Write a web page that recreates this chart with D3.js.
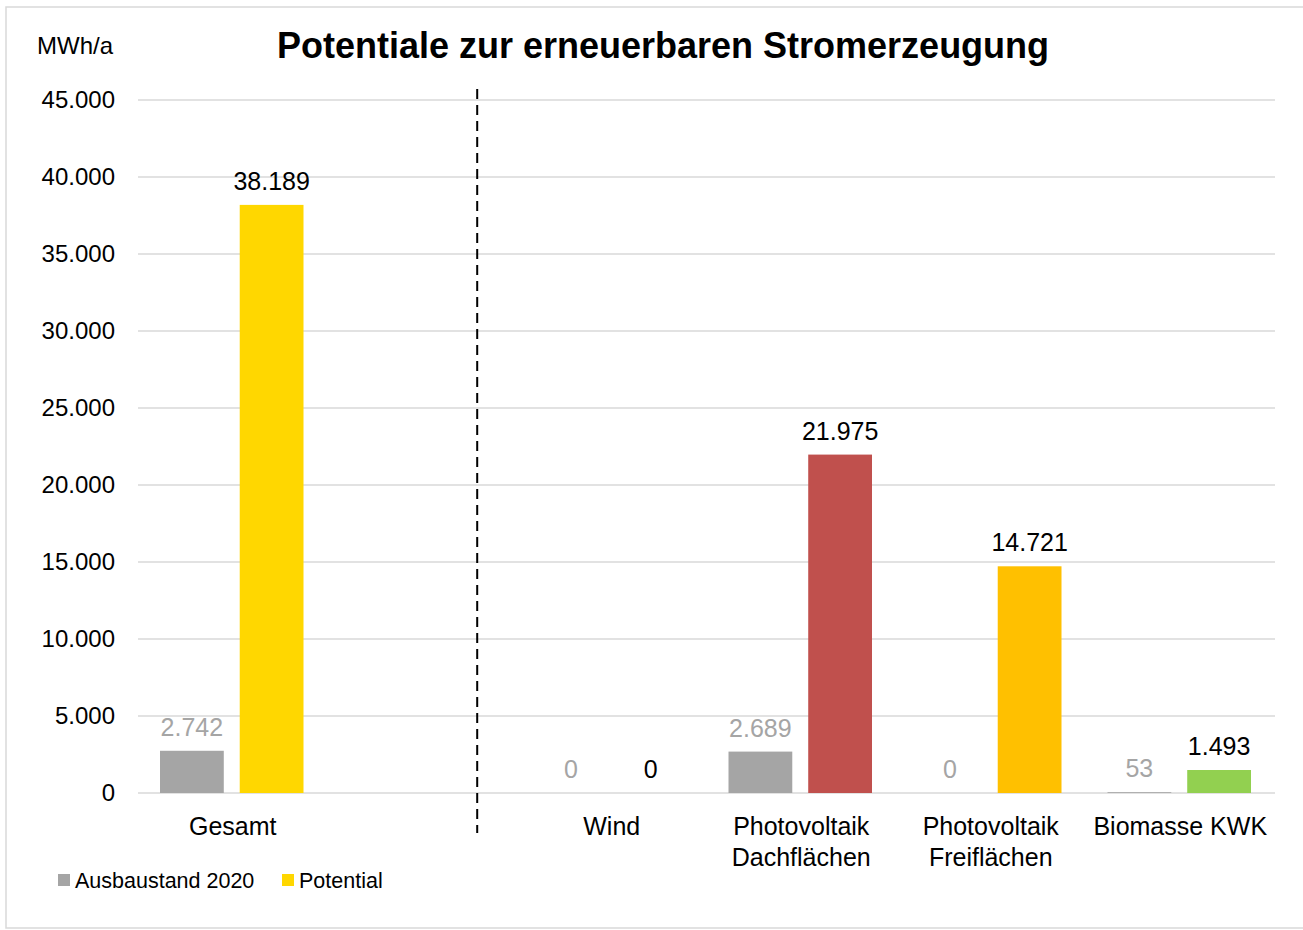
<!DOCTYPE html>
<html>
<head>
<meta charset="utf-8">
<script src="https://cdn.jsdelivr.net/npm/d3@7"></script>
<style>
  body { margin: 0; background: #fff; }
  svg text { font-family: "Liberation Sans", Arial, sans-serif; }
</style>
</head>
<body>
<svg></svg>
<script>
const width = 1303,
    height = 930;

// chart data
const categories = ["Gesamt", "gap", "Wind", "Photovoltaik Dachflächen", "Photovoltaik Freiflächen", "Biomasse KWK"];
const categoryLines = [["Gesamt"], [], ["Wind"], ["Photovoltaik", "Dachflächen"], ["Photovoltaik", "Freiflächen"], ["Biomasse KWK"]];
const ausbaustand = [2742, null, 0, 2689, 0, 53];
const potential = [38189, null, 0, 21975, 14721, 1493];
const potentialColors = ["#FFD700", null, "#FFD700", "#C0504D", "#FFC000", "#92D050"];
const yTicks = [0, 5000, 10000, 15000, 20000, 25000, 30000, 35000, 40000, 45000];

const de = d3.formatLocale({ decimal: ",", thousands: ".", grouping: [3], currency: ["", " €"] });
const fmt = de.format(",.0f");

const svg = d3.select("svg")
    .attr("width", width)
    .attr("height", height);

// outer frame
svg.append("rect")
    .attr("x", 6).attr("y", 7)
    .attr("width", width + 10).attr("height", 921)
    .attr("fill", "#fff")
    .attr("stroke", "#D9D9D9")
    .attr("stroke-width", 1.5);

const x = d3.scaleBand().domain(categories).range([138, 1275]);
const bw = x.bandwidth();
const x1 = d3.scaleBand().domain(["a", "p"]).range([22, bw - 24]).paddingInner(0.2);
const y = d3.scaleLinear().domain([0, 45000]).range([793, 100]);

// gridlines
svg.append("g")
    .selectAll("line")
    .data(yTicks)
    .join("line")
    .attr("x1", 138).attr("x2", 1275)
    .attr("y1", d => y(d)).attr("y2", d => y(d))
    .attr("stroke", "#D9D9D9")
    .attr("stroke-width", 1.5);

// y tick labels
svg.append("g")
    .selectAll("text")
    .data(yTicks)
    .join("text")
    .attr("x", 115)
    .attr("y", d => y(d))
    .attr("dy", "0.35em")
    .attr("text-anchor", "end")
    .attr("font-size", 24)
    .attr("fill", "#000")
    .text(d => fmt(d));

// unit + title
svg.append("text")
    .attr("x", 75).attr("y", 46).attr("dy", "0.35em")
    .attr("text-anchor", "middle")
    .attr("font-size", 24)
    .text("MWh/a");

svg.append("text")
    .attr("x", 663).attr("y", 45).attr("dy", "0.35em")
    .attr("text-anchor", "middle")
    .attr("font-size", 36)
    .attr("font-weight", "bold")
    .text("Potentiale zur erneuerbaren Stromerzeugung");

const rows = categories.map((c, i) => ({ cat: c, a: ausbaustand[i], p: potential[i], color: potentialColors[i], lines: categoryLines[i] }))
    .filter(d => d.a !== null);

// bars
const g = svg.append("g");
g.selectAll("rect.a")
    .data(rows)
    .join("rect")
    .attr("class", "a")
    .attr("x", d => x(d.cat) + x1("a"))
    .attr("width", x1.bandwidth())
    .attr("y", d => y(d.a))
    .attr("height", d => y(0) - y(d.a))
    .attr("fill", "#A5A5A5");

g.selectAll("rect.p")
    .data(rows)
    .join("rect")
    .attr("class", "p")
    .attr("x", d => x(d.cat) + x1("p"))
    .attr("width", x1.bandwidth())
    .attr("y", d => y(d.p))
    .attr("height", d => y(0) - y(d.p))
    .attr("fill", d => d.color);

// value labels
g.selectAll("text.la")
    .data(rows)
    .join("text")
    .attr("class", "la")
    .attr("x", d => x(d.cat) + x1("a") + x1.bandwidth() / 2)
    .attr("y", d => y(d.a) - 15)
    .attr("text-anchor", "middle")
    .attr("font-size", 25)
    .attr("fill", "#A5A5A5")
    .text(d => fmt(d.a));

g.selectAll("text.lp")
    .data(rows)
    .join("text")
    .attr("class", "lp")
    .attr("x", d => x(d.cat) + x1("p") + x1.bandwidth() / 2)
    .attr("y", d => y(d.p) - 15)
    .attr("text-anchor", "middle")
    .attr("font-size", 25)
    .attr("fill", "#000")
    .text(d => fmt(d.p));

// category labels
const cl = svg.append("g")
    .selectAll("text")
    .data(rows)
    .join("text")
    .attr("x", d => x(d.cat) + bw / 2)
    .attr("y", 826)
    .attr("text-anchor", "middle")
    .attr("font-size", 25)
    .attr("fill", "#000");
cl.selectAll("tspan")
    .data(d => d.lines)
    .join("tspan")
    .attr("x", function () { return d3.select(this.parentNode).attr("x"); })
    .attr("dy", (d, i) => i === 0 ? "0.35em" : "1.25em")
    .text(d => d);

// separator between total and single sources
const sepX = x("gap") + bw * 0.79;
svg.append("line")
    .attr("x1", sepX).attr("x2", sepX)
    .attr("y1", 89).attr("y2", 833)
    .attr("stroke", "#000")
    .attr("stroke-width", 2)
    .attr("stroke-dasharray", "10,6");

// legend
const legend = [
    { label: "Ausbaustand 2020", color: "#A5A5A5", x: 58 },
    { label: "Potential", color: "#FFD700", x: 282 }
];
const lg = svg.append("g").selectAll("g")
    .data(legend)
    .join("g")
    .attr("transform", d => `translate(${d.x},880)`);
lg.append("rect")
    .attr("x", 0).attr("y", -6)
    .attr("width", 12).attr("height", 12)
    .attr("fill", d => d.color);
lg.append("text")
    .attr("x", 17).attr("dy", "0.35em")
    .attr("font-size", 21.5)
    .text(d => d.label);
</script>
</body>
</html>
